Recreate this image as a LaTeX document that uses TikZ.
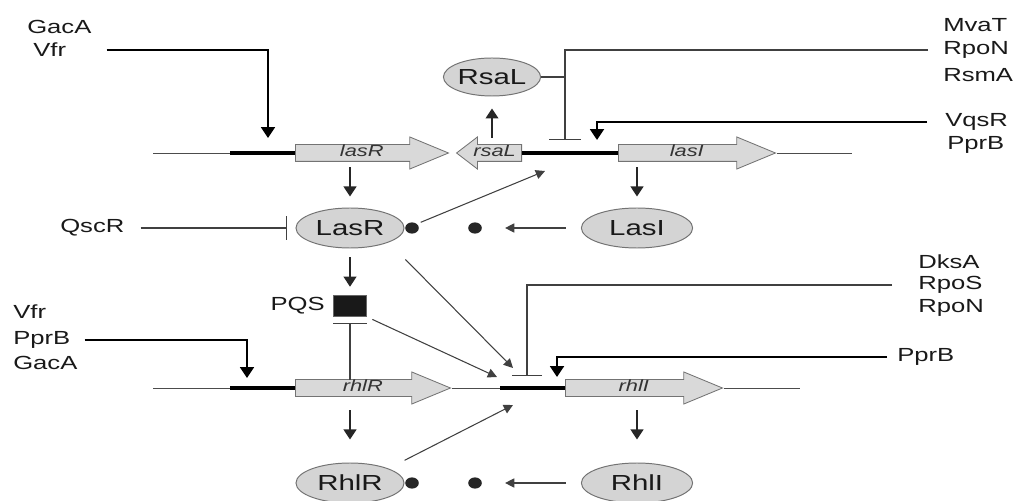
\documentclass[tikz,border=0pt]{standalone}
\usepackage{fontspec}
\setmainfont{Liberation Sans}[FakeStretch=1.35]
\usetikzlibrary{shapes.arrows,shapes.geometric,arrows.meta}

\begin{document}
\begin{tikzpicture}[x=0.025cm, y=0.025cm]

    \tikzstyle{reg} = [font=\fontsize{13.5}{15}\selectfont, text=black!90, inner sep=0pt, anchor=west]
    \tikzstyle{prot} = [ellipse, draw=black!55, fill=black!17, line width=0.7pt, minimum width=2.7cm, minimum height=1cm, inner sep=0pt, font=\fontsize{15.5}{17}\selectfont, text=black!90]
    \tikzstyle{gene} = [single arrow, draw=black!55, fill=black!15, line width=0.6pt, anchor=tail, font=\fontsize{11.5}{13}\selectfont\itshape, text=black!80, text height=0.22cm, text depth=0.06cm, inner ysep=0.06cm, inner xsep=0pt, single arrow head extend=0.19cm, single arrow tip angle=45]
    \tikzstyle{dot} = [ellipse, fill=black!85, minimum width=0.34cm, minimum height=0.28cm, inner sep=0pt]
    \tikzstyle{sig} = [rectangle, fill=black!90, draw=black!60, minimum width=0.83cm, minimum height=0.53cm, inner sep=0pt]
    \tikzstyle{dna} = [black!70, line width=0.7pt]
    \tikzstyle{prom} = [black, line width=3.5pt]
    \tikzstyle{thin} = [black!75, line width=0.75pt]
    \tikzstyle{arr} = [thin, -{Triangle[length=0.23cm,width=0.23cm]}]
    \tikzstyle{expr} = [black!85, line width=1pt, -{Triangle[length=0.25cm,width=0.32cm]}, shorten <=0.35cm, shorten >=0.275cm]
    \tikzstyle{act} = [black, line width=2pt, -{Triangle[length=0.27cm,width=0.34cm]}]
    \tikzstyle{inh} = [thin, -{Bar[width=0.58cm]}]

    \useasboundingbox (0,0) rectangle (1016,500);

    % las system
    \node (lasR) [gene, minimum height=3.825cm] at (295,347) {lasR};
    \node (rsaL) [gene, minimum height=1.625cm, shape border rotate=180, single arrow tip angle=75] at (522,347) {rsaL};
    \node (lasI) [gene, minimum height=3.925cm] at (618,347) {lasI};

    \draw[dna] (153,347) -- (230,347);
    \draw[prom] (230,347) -- (lasR.tail);
    \draw[prom] (rsaL.tail) -- (lasI.tail);
    \draw[dna] (lasI.tip) -- (852,347);

    \node (RsaL) [prot, minimum width=2cm, minimum height=0.95cm] at (492,423) {RsaL};
    \node (LasR) [prot] at (350,272) {LasR};
    \node (LasI) [prot, minimum width=2.78cm] at (637,272) {LasI};
    \node (LasRdot) [dot] at (412,272) {};
    \node (dotA) [dot] at (475,272) {};

    \node (gacA1) [reg] at (27,473) {GacA};
    \node (vfr1) [reg] at (33,450) {Vfr};
    \node (mvaT) [reg] at (943,475) {MvaT};
    \node (rpoN1) [reg] at (943,450) {RpoN};
    \node (rsmA) [reg] at (943,425) {RsmA};
    \node (vqsR) [reg] at (945,378) {VqsR};
    \node (pprB1) [reg] at (947,355) {PprB};
    \node (QscR) [reg] at (60,272) {QscR};

    \coordinate (lasRp) at (268,362);
    \coordinate (lasIbar) at (565,360);
    \coordinate (lasIup) at (597,360);
    \coordinate (lasIin) at (545,329);

    \draw[act, shorten <=0.375cm] (vfr1.east -| gacA1.east) -| (lasRp);
    \draw[inh, -{Bar[width=0.78cm]}, shorten <=0.375cm] (rpoN1.west) -| (lasIbar);
    \draw[thin] (RsaL.east) -- (RsaL.east -| lasIbar);
    \draw[act, shorten <=0.45cm] (vqsR.west) -| (lasIup);

    \draw[expr] (lasR.tail -| LasR) -- (LasR);
    \draw[expr, shorten <=0.375cm, shorten >=0.3cm] (rsaL.tail -| RsaL) -- (RsaL);
    \draw[expr] (lasI.tail -| LasI) -- (LasI);
    \draw[arr, shorten <=0.1cm] (LasRdot.north east) -- (lasIin);
    \draw[arr, shorten <=0.375cm, shorten >=0.575cm] (LasI.west) -- (dotA.east);
    \draw[inh, shorten <=0.4cm, shorten >=0.2cm] (QscR.east) -- (LasR.west);

    % PQS
    \node (PQS) [sig] at (350,194) {};
    \node (PQSlbl) [reg, anchor=east] at (325,194) {PQS};
    \draw[expr, shorten <=0.225cm, shorten >=0.21cm] (LasR) -- (PQS);

    % rhl system
    \node (rhlR) [gene, minimum height=3.875cm] at (295,112) {rhlR};
    \node (rhlI) [gene, minimum height=3.925cm] at (565,112) {rhlI};

    \draw[dna] (153,112) -- (230,112);
    \draw[prom] (230,112) -- (rhlR.tail);
    \draw[dna] (rhlR.tip) -- (500,112);
    \draw[prom] (500,112) -- (rhlI.tail);
    \draw[dna] (rhlI.tip) -- (800,112);

    \node (RhlR) [prot] at (350,17) {RhlR};
    \node (RhlI) [prot, minimum width=2.78cm] at (637,17) {RhlI};
    \node (RhlRdot) [dot] at (412,17) {};
    \node (dotB) [dot] at (475,17) {};

    \node (vfr2) [reg] at (13,188) {Vfr};
    \node (pprB2) [reg] at (13,160) {PprB};
    \node (gacA2) [reg] at (13,137) {GacA};
    \node (dksA) [reg] at (918,238) {DksA};
    \node (rpoS) [reg] at (918,215) {RpoS};
    \node (rpoN2) [reg] at (918,192) {RpoN};
    \node (pprB3) [reg] at (897,143) {PprB};

    \coordinate (rhlRp) at (247,122);
    \coordinate (rhlIbar) at (527,124);
    \coordinate (rhlIup) at (557,123);
    \coordinate (rhlIa) at (497,123);
    \coordinate (rhlIb) at (513,132);
    \coordinate (rhlIc) at (513,95);

    \draw[act, shorten <=0.35cm] (pprB2.east) -| (rhlRp);
    \draw[inh, -{Bar[width=0.75cm]}, shorten <=0.65cm] (rpoS.west) -| (rhlIbar);
    \draw[act, shorten <=0.25cm] (pprB3.west) -| (rhlIup);

    \draw[inh, -{Bar[width=0.83cm]}, shorten <=0.2cm, shorten >=0.15cm] (rhlR.tail -| PQS) -- (PQS);
    \draw[arr, shorten <=0.15cm] (PQS.south east) -- (rhlIa);
    \draw[arr, shorten <=0.6cm] (LasR.south east) -- (rhlIb);
    \draw[arr, shorten <=0.45cm] (RhlR.north east) -- (rhlIc);

    \draw[expr, shorten <=0.55cm, shorten >=0.575cm] (rhlR.tail -| RhlR) -- (RhlR);
    \draw[expr, shorten <=0.55cm, shorten >=0.575cm] (rhlI.tail -| RhlI) -- (RhlI);
    \draw[arr, shorten <=0.375cm, shorten >=0.575cm] (RhlI.west) -- (dotB.east);

\end{tikzpicture}
\end{document}
